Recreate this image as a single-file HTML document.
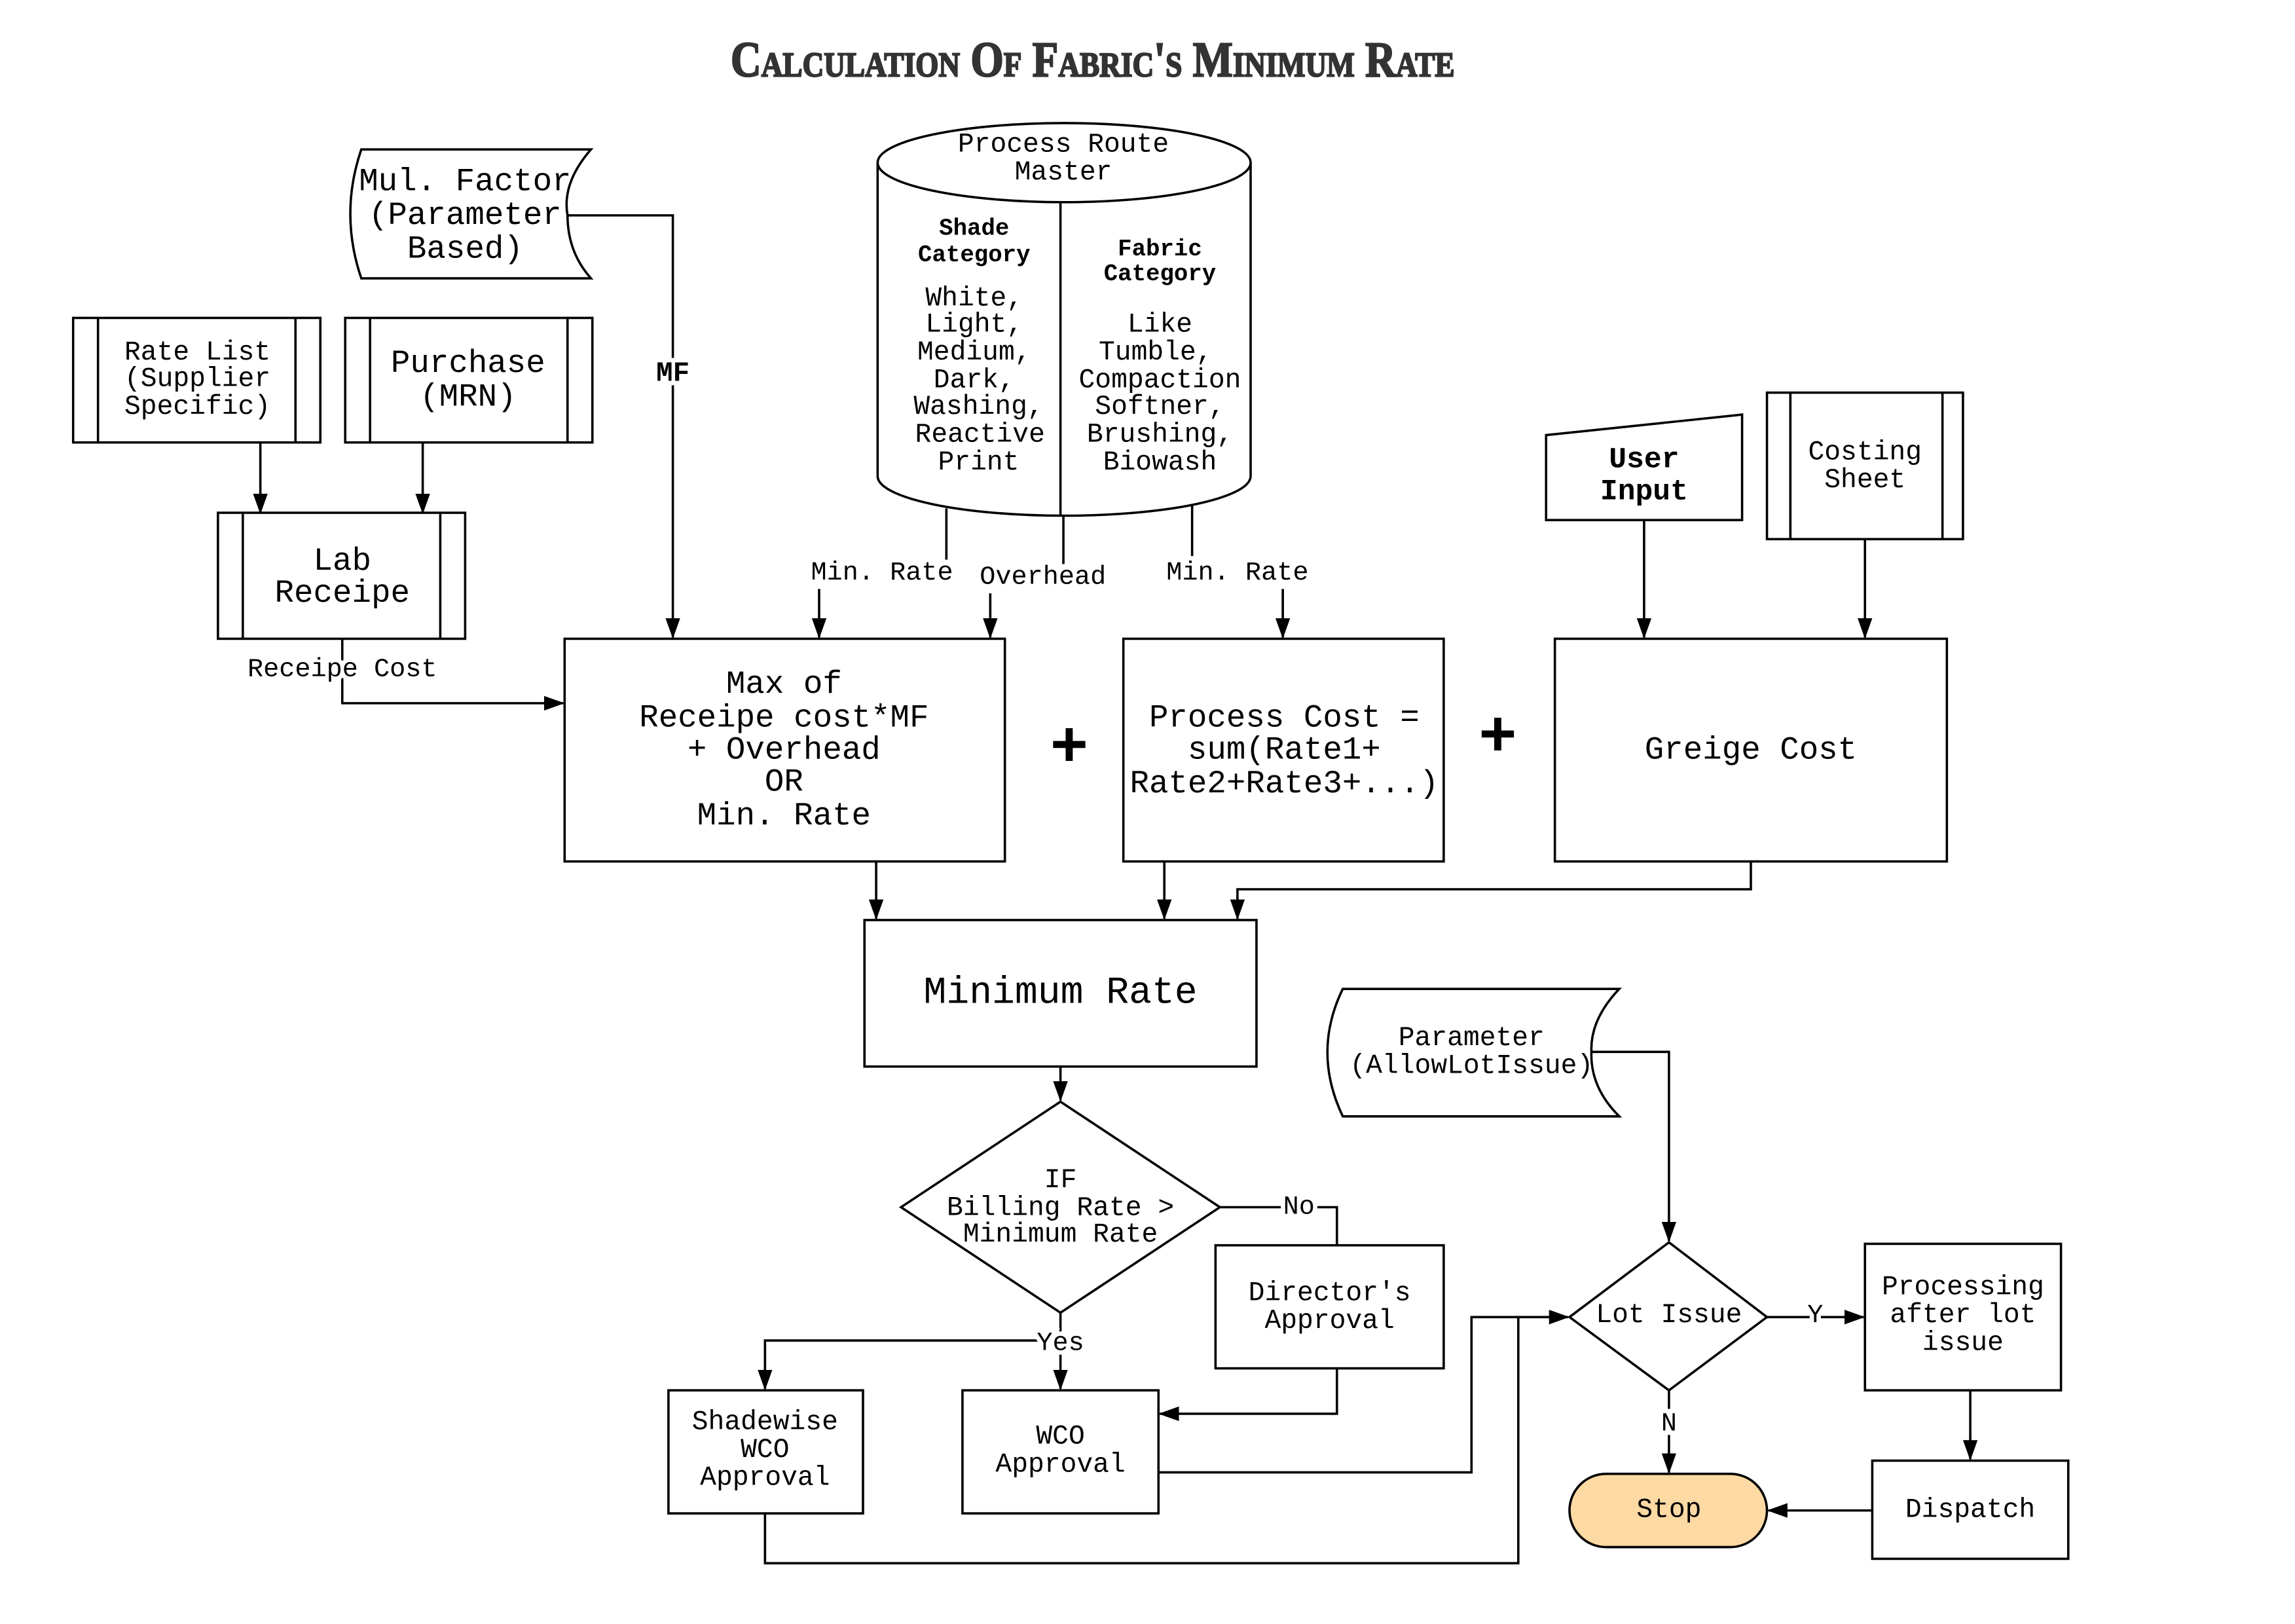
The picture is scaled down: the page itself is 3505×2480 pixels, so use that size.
<!DOCTYPE html>
<html><head><meta charset="utf-8"><style>
html,body{margin:0;padding:0;background:#fff}
svg{display:block}
text{font-family:"Liberation Mono","DejaVu Sans Mono",monospace;fill:#000}
</style></head><body>
<svg width="3505" height="2480" viewBox="0 0 1569 1108.5" preserveAspectRatio="none" xmlns="http://www.w3.org/2000/svg">
<defs>
<marker id="a" markerWidth="14" markerHeight="10" refX="13" refY="5" orient="auto" markerUnits="userSpaceOnUse">
<path d="M0,0 L14,5 L0,10 Z" fill="#000"/></marker>
</defs>
<rect width="1569" height="1108.5" fill="#fff"/>
<text x="747" y="52" text-anchor="middle" textLength="495" lengthAdjust="spacingAndGlyphs" style="font-family:'Liberation Serif',serif;font-weight:bold;font-variant:small-caps;font-size:34px;fill:#333" stroke="#333" stroke-width="1">Calculation Of Fabric's Minimum Rate</text>

<g fill="none" stroke="#000" stroke-width="1.6">
<path d="M247,102 L404,102 Q384,125 388,147 Q388,172 404,190 L247,190 Q232,146 247,102 Z" fill="#fff"/>
<rect x="50" y="217" width="169" height="85"/><line x1="67" y1="217" x2="67" y2="302"/><line x1="202" y1="217" x2="202" y2="302"/>
<rect x="236" y="217" width="169" height="85"/><line x1="253" y1="217" x2="253" y2="302"/><line x1="388" y1="217" x2="388" y2="302"/>
<rect x="149" y="350" width="169" height="86"/><line x1="166" y1="350" x2="166" y2="436"/><line x1="301" y1="350" x2="301" y2="436"/>
<path d="M600,111 L600,325 A127.5,27 0 0 0 855,325 L855,111"/>
<ellipse cx="727.5" cy="111" rx="127.5" ry="27"/>
<line x1="725" y1="138" x2="725" y2="352"/>
<rect x="386" y="436" width="301" height="152"/>
<rect x="768" y="436" width="219" height="152"/>
<rect x="1063" y="436" width="268" height="152"/>
<path d="M1057,297 L1191,283 L1191,355 L1057,355 Z"/>
<rect x="1208" y="268" width="134" height="100"/><line x1="1224" y1="268" x2="1224" y2="368"/><line x1="1328" y1="268" x2="1328" y2="368"/>
<rect x="591" y="628" width="268" height="100"/>
<path d="M725,752 L834,824 L725,896 L616,824 Z"/>
<rect x="831" y="850" width="156" height="84"/>
<rect x="457" y="949" width="133" height="84"/>
<rect x="658" y="949" width="134" height="84"/>
<path d="M918,675 L1107,675 Q1087,696 1088,718 Q1087,742 1107,762 L918,762 Q897,718 918,675 Z"/>
<path d="M1141,848 L1208,899 L1141,949 L1073,899 Z"/>
<rect x="1275" y="849" width="134" height="100"/>
<rect x="1280" y="997" width="134" height="67"/>
<rect x="1073" y="1006" width="135" height="50" rx="25" fill="#fdd9a3"/>
<path d="M388,147 L460,147 L460,435" marker-end="url(#a)"/>
<path d="M178,302 L178,350" marker-end="url(#a)"/>
<path d="M289,302 L289,350" marker-end="url(#a)"/>
<path d="M234,436 L234,480 L385,480" marker-end="url(#a)"/>
<line x1="647" y1="347" x2="647" y2="382"/>
<line x1="727" y1="352" x2="727" y2="385"/>
<line x1="815" y1="345" x2="815" y2="382"/>
<path d="M560,402 L560,435" marker-end="url(#a)"/>
<path d="M677,405 L677,435" marker-end="url(#a)"/>
<path d="M877,402 L877,435" marker-end="url(#a)"/>
<path d="M1124,355 L1124,435" marker-end="url(#a)"/>
<path d="M1275,368 L1275,435" marker-end="url(#a)"/>
<path d="M599,588 L599,627" marker-end="url(#a)"/>
<path d="M796,588 L796,627" marker-end="url(#a)"/>
<path d="M1197,588 L1197,607 L846,607 L846,627" marker-end="url(#a)"/>
<path d="M725,728 L725,751" marker-end="url(#a)"/>
<path d="M834,824 L914,824 L914,850"/>
<path d="M914,934 L914,965 L793,965" marker-end="url(#a)"/>
<path d="M725,896 L725,948" marker-end="url(#a)"/>
<path d="M725,915 L523,915 L523,948" marker-end="url(#a)"/>
<path d="M792,1005 L1006,1005 L1006,899 L1072,899" marker-end="url(#a)"/>
<path d="M523,1033 L523,1067 L1038,1067 L1038,899"/>
<path d="M1088,718 L1141,718 L1141,847" marker-end="url(#a)"/>
<path d="M1208,899 L1274,899" marker-end="url(#a)"/>
<path d="M1347,949 L1347,996" marker-end="url(#a)"/>
<path d="M1280,1031 L1209,1031" marker-end="url(#a)"/>
<path d="M1141,949 L1141,1005" marker-end="url(#a)"/>
</g>

<g text-anchor="middle" dominant-baseline="central">
<g font-size="22">
<text x="318" y="124">Mul. Factor</text><text x="318" y="147">(Parameter</text><text x="318" y="170">Based)</text>
<text x="320" y="248">Purchase</text><text x="320" y="271">(MRN)</text>
<text x="234" y="383">Lab</text><text x="234" y="405">Receipe</text>
<text x="536" y="467">Max of</text><text x="536" y="490">Receipe cost*MF</text><text x="536" y="512">+ Overhead</text><text x="536" y="534">OR</text><text x="536" y="557">Min. Rate</text>
<text x="878" y="490">Process Cost =</text><text x="878" y="512">sum(Rate1+</text><text x="878" y="535">Rate2+Rate3+...)</text>
<text x="1197" y="512">Greige Cost</text>
</g>
<text x="725" y="678" font-size="26">Minimum Rate</text>
<text x="731" y="511" font-size="44" font-weight="bold">+</text>
<text x="1024" y="504" font-size="44" font-weight="bold">+</text>
<g font-size="18.5">
<text x="135" y="241">Rate List</text><text x="135" y="259">(Supplier</text><text x="135" y="278">Specific)</text>
<text x="727" y="99">Process Route</text><text x="727" y="118">Master</text>
<text x="666" y="204">White,</text><text x="666" y="222">Light,</text><text x="666" y="241">Medium,</text><text x="666" y="260">Dark,</text><text x="669" y="278">Washing,</text><text x="670" y="297">Reactive</text><text x="669" y="316">Print</text>
<text x="793" y="222">Like</text><text x="790" y="241">Tumble,</text><text x="793" y="260">Compaction</text><text x="793" y="278">Softner,</text><text x="793" y="297">Brushing,</text><text x="793" y="316">Biowash</text>
<text x="1275" y="309">Costing</text><text x="1275" y="328">Sheet</text>
<text x="1124" y="314" font-size="20" font-weight="bold">User</text><text x="1124" y="336" font-size="20" font-weight="bold">Input</text>
<text x="725" y="806">IF</text><text x="725" y="825">Billing Rate &gt;</text><text x="725" y="843">Minimum Rate</text>
<text x="909" y="883">Director's</text><text x="909" y="902">Approval</text>
<text x="523" y="971">Shadewise</text><text x="523" y="990">WCO</text><text x="523" y="1009">Approval</text>
<text x="725" y="981">WCO</text><text x="725" y="1000">Approval</text>
<text x="1006" y="709">Parameter</text><text x="1006" y="728">(AllowLotIssue)</text>
<text x="1141" y="898">Lot Issue</text>
<text x="1342" y="879">Processing</text><text x="1342" y="898">after lot</text><text x="1342" y="917">issue</text>
<text x="1347" y="1031">Dispatch</text>
<text x="1141" y="1031">Stop</text>
</g>
<g font-size="16" font-weight="bold">
<text x="666" y="156">Shade</text><text x="666" y="174">Category</text>
<text x="793" y="170">Fabric</text><text x="793" y="187">Category</text>
</g>
<text x="460" y="255" font-size="19" font-weight="bold" style="paint-order:stroke" stroke="#fff" stroke-width="6">MF</text>
<g font-size="18" style="paint-order:stroke" stroke="#fff" stroke-width="6">
<text x="234" y="457">Receipe Cost</text>
<text x="603" y="391">Min. Rate</text>
<text x="713" y="394">Overhead</text>
<text x="846" y="391">Min. Rate</text>
<text x="888" y="824">No</text>
<text x="725" y="917">Yes</text>
<text x="1241" y="898">Y</text>
<text x="1141" y="972">N</text>
</g>
</g>
</svg>
</body></html>
